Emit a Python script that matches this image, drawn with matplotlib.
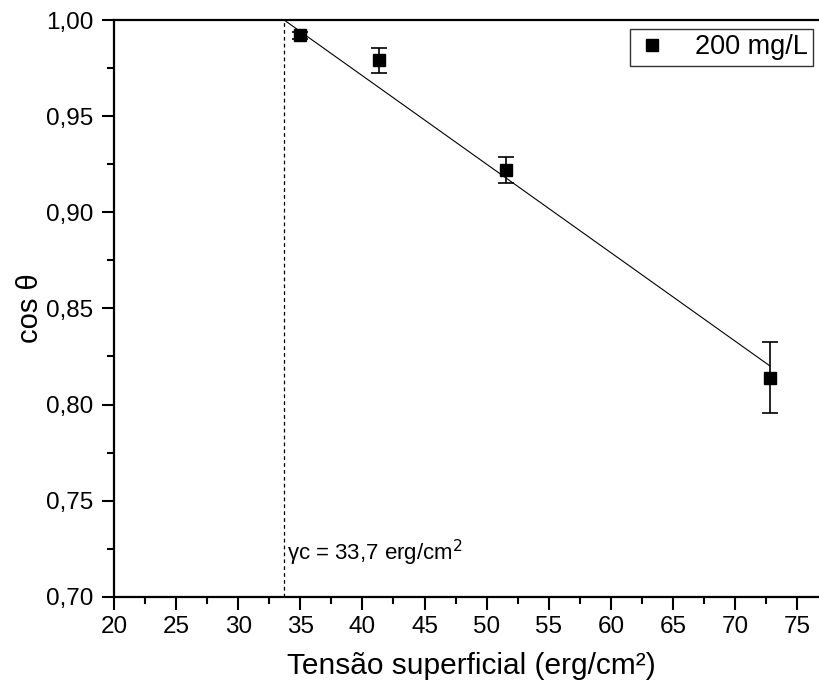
import numpy as np
import matplotlib.pyplot as plt
from matplotlib.ticker import MultipleLocator, FuncFormatter

plt.rcParams['font.family'] = ['Liberation Sans', 'DejaVu Sans']

# measured contact angle data, 200 mg/L
tension = [35.0, 41.3, 51.6, 72.8]
cos_theta = [0.992, 0.979, 0.922, 0.814]
cos_err = [0.002, 0.0067, 0.0067, 0.0185]

# Zisman fit: cos(theta) = 1 at the critical tension
gamma_c = 33.7
fit_slope = -0.00460

fig = plt.figure(figsize=(8.2, 6.9), dpi=100)
ax = fig.add_axes([0.139, 0.135, 0.871, 0.836])

xfit = np.array([gamma_c, tension[-1]])
yfit = 1.0 + fit_slope * (xfit - gamma_c)
ax.plot(xfit, yfit, color='black', lw=0.8)

ax.errorbar(tension, cos_theta, yerr=cos_err, fmt='none', ecolor='black',
            elinewidth=1.2, capsize=6, capthick=1.2)
ax.plot(tension, cos_theta, 's', color='black', ms=9, label='200 mg/L')

ax.plot([gamma_c, gamma_c], [0.70, 1.00], color='black', lw=0.9,
        ls=(0, (3, 2.5)))
ax.text(33.9, 0.719, r'γc = 33,7 erg/cm$^2$', fontsize=16)

ax.set_xlim(20, 77.5)
ax.set_ylim(0.70, 1.00)
ax.xaxis.set_major_locator(MultipleLocator(5))
ax.xaxis.set_minor_locator(MultipleLocator(2.5))
ax.yaxis.set_major_locator(MultipleLocator(0.05))
ax.yaxis.set_minor_locator(MultipleLocator(0.025))
ax.yaxis.set_major_formatter(FuncFormatter(lambda v, p: f'{v:.2f}'.replace('.', ',')))

ax.tick_params(which='both', direction='out', width=1.5, labelsize=17.5,
               top=False, right=False)
ax.tick_params(which='major', length=9)
ax.tick_params(which='minor', length=5)
ax.tick_params(axis='y', which='major', pad=6)
ax.tick_params(axis='x', which='major', pad=5)
for s in ax.spines.values():
    s.set_linewidth(1.6)

ax.set_xlabel('Tensão superficial (erg/cm²)', fontsize=21.5, labelpad=10)
ax.set_ylabel('cos θ', fontsize=21, labelpad=1)

leg = ax.legend(loc='upper right', bbox_to_anchor=(0.992, 0.958),
                bbox_transform=fig.transFigure, fontsize=19.5, frameon=True,
                fancybox=False, edgecolor='black', handlelength=1.2,
                handletextpad=1.0, borderpad=0.2, borderaxespad=0)
leg.get_frame().set_linewidth(1.0)
leg.legend_handles[0].set_markersize(8)

fig.savefig('out.png', dpi=100)
